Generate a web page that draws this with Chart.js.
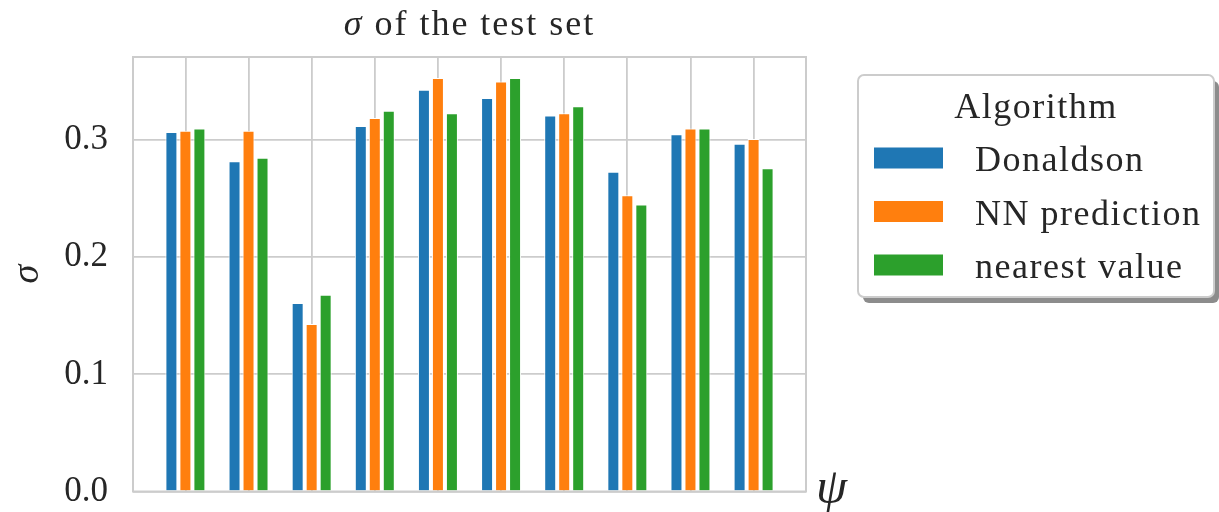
<!DOCTYPE html>
<html>
<head>
<meta charset="utf-8">
<script src="https://cdn.jsdelivr.net/npm/chart.js@4"></script>
<style>
  html, body { margin: 0; padding: 0; background: #ffffff; }
  canvas { display: block; }
</style>
</head>
<body>
<canvas id="c" width="1219" height="512"></canvas>
<script>
// Group positions along the ψ axis (one group of three bars each)
const groups = [0, 1, 2, 3, 4, 5, 6, 7, 8, 9];

// σ values per algorithm
const donaldson    = [0.307, 0.282, 0.161, 0.312, 0.343, 0.336, 0.321, 0.273, 0.305, 0.297];
const nnPrediction = [0.308, 0.308, 0.143, 0.319, 0.353, 0.350, 0.323, 0.253, 0.310, 0.301];
const nearestValue = [0.310, 0.285, 0.168, 0.325, 0.323, 0.353, 0.329, 0.245, 0.310, 0.276];

const seriesNames  = ['Donaldson', 'NN prediction', 'nearest value'];
const seriesColors = ['#1f77b4', '#ff7f0e', '#2ca02c'];

// y tick positions
const yTicks = [0, 0.1, 0.2, 0.3];

const titleMath   = 'σ';
const titleRest   = ' of the test set';
const legendTitle = 'Algorithm';
const xAxisLabel  = 'ψ';
const yAxisLabel  = 'σ';

const serif     = "'Liberation Serif', 'DejaVu Serif', serif";
const ink       = '#262626';
const gridColor = '#cccccc';

function points(values) {
  return values.map((v, i) => ({ x: groups[i], y: v }));
}

function roundedRect(ctx, x, y, w, h, r) {
  ctx.beginPath();
  ctx.moveTo(x + r, y);
  ctx.lineTo(x + w - r, y);
  ctx.arcTo(x + w, y, x + w, y + r, r);
  ctx.lineTo(x + w, y + h - r);
  ctx.arcTo(x + w, y + h, x + w - r, y + h, r);
  ctx.lineTo(x + r, y + h);
  ctx.arcTo(x, y + h, x, y + h - r, r);
  ctx.lineTo(x, y + r);
  ctx.arcTo(x, y, x + r, y, r);
  ctx.closePath();
}

// Frame around the plot, title, ψ label and the boxed legend
const decorations = {
  id: 'decorations',
  afterDatasetsDraw(chart) {
    const { ctx, chartArea: a } = chart;
    ctx.save();
    ctx.strokeStyle = gridColor;
    ctx.lineWidth = 2;
    ctx.strokeRect(a.left, a.top, a.right - a.left, a.bottom - a.top);
    ctx.restore();
  },
  afterDraw(chart) {
    const { ctx, chartArea: a } = chart;
    ctx.save();
    ctx.fillStyle = ink;
    ctx.textBaseline = 'alphabetic';
    ctx.textAlign = 'left';

    // title
    ctx.letterSpacing = '2px';
    const fItalic = `italic 36px ${serif}`;
    const fRoman = `36px ${serif}`;
    ctx.font = fItalic;
    const w1 = ctx.measureText(titleMath).width;
    ctx.font = fRoman;
    const w2 = ctx.measureText(titleRest).width;
    const tx = (a.left + a.right) / 2 - (w1 + w2) / 2;
    ctx.font = fItalic;
    ctx.fillText(titleMath, tx, 35);
    ctx.font = fRoman;
    ctx.fillText(titleRest, tx + w1, 35);

    // ψ at the end of the horizontal axis
    ctx.letterSpacing = '0px';
    ctx.font = `italic 50px ${serif}`;
    ctx.fillText(xAxisLabel, a.right + 10, 503);

    // legend box
    const bx = a.right + 52, by = 75, bw = 356, bh = 222;
    ctx.fillStyle = '#8c8c8c';
    roundedRect(ctx, bx + 5, by + 6, bw, bh, 6);
    ctx.fill();
    ctx.fillStyle = '#ffffff';
    roundedRect(ctx, bx, by, bw, bh, 6);
    ctx.fill();
    ctx.strokeStyle = gridColor;
    ctx.lineWidth = 2;
    ctx.stroke();

    ctx.letterSpacing = '1.5px';
    ctx.font = `36px ${serif}`;
    ctx.fillStyle = ink;
    ctx.textAlign = 'center';
    ctx.fillText(legendTitle, bx + bw / 2, 118);
    ctx.textAlign = 'left';
    chart.data.datasets.forEach((ds, i) => {
      const rowY = i * 53.5;
      ctx.fillStyle = ds.backgroundColor;
      ctx.fillRect(bx + 16, 147.5 + rowY, 69, 21);
      ctx.fillStyle = ink;
      ctx.fillText(ds.label, bx + 117, 171 + rowY);
    });
    ctx.restore();
  }
};

const allSeries = [donaldson, nnPrediction, nearestValue];

new Chart(document.getElementById('c'), {
  type: 'bar',
  data: {
    datasets: allSeries.map((vals, i) => ({
      label: seriesNames[i],
      data: points(vals),
      backgroundColor: seriesColors[i]
    }))
  },
  options: {
    responsive: false,
    animation: false,
    devicePixelRatio: 1,
    layout: { padding: { left: 0, top: 57, right: 413, bottom: 20.5 } },
    datasets: {
      bar: {
        categoryPercentage: 0.665,
        barPercentage: 0.857,
        borderColor: '#ffffff',
        borderWidth: 1,
        borderSkipped: 'start'
      }
    },
    plugins: {
      legend: { display: false },
      tooltip: { enabled: false },
      title: { display: false }
    },
    scales: {
      x: {
        type: 'linear',
        min: -0.83,
        max: 9.83,
        offset: false,
        afterBuildTicks: s => { s.ticks = groups.map(v => ({ value: v })); },
        afterFit: s => {
          s.height = 0;
          s.paddingLeft = 0; s.paddingRight = 0; s.paddingTop = 0; s.paddingBottom = 0;
        },
        ticks: { display: false },
        grid: { color: gridColor, lineWidth: 1.8, drawTicks: false, offset: false },
        border: { display: false }
      },
      y: {
        type: 'linear',
        min: 0,
        max: 0.371,
        afterBuildTicks: s => { s.ticks = yTicks.map(v => ({ value: v })); },
        afterFit: s => {
          s.width = 133;
          s.paddingTop = 0; s.paddingBottom = 0; s.paddingLeft = 0; s.paddingRight = 0;
        },
        ticks: {
          font: { family: serif, size: 35 },
          color: ink,
          padding: 25,
          callback: v => Number(v).toFixed(1)
        },
        grid: { color: gridColor, lineWidth: 1.8, drawTicks: false },
        border: { display: false },
        title: {
          display: true,
          text: yAxisLabel,
          font: { family: serif, size: 38, style: 'italic' },
          color: ink,
          padding: { top: 5, bottom: 0 }
        }
      }
    }
  },
  plugins: [decorations]
});
</script>
</body>
</html>
